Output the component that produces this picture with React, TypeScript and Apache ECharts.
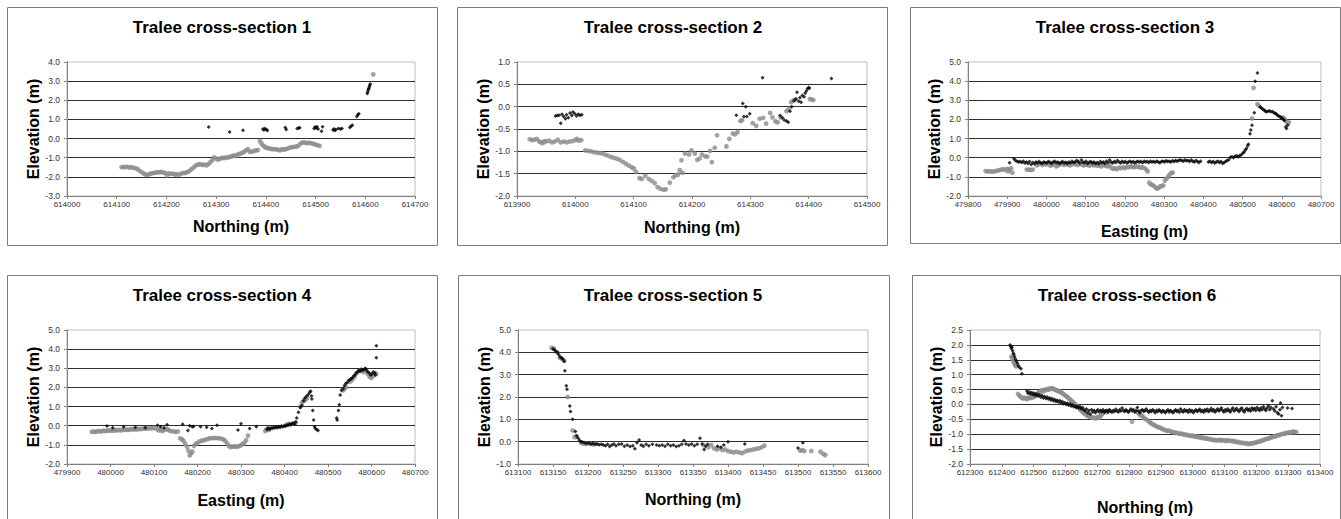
import React, { useEffect, useRef } from "react";
import * as echarts from "echarts";

type Pts = [number, number][];

// ---------- Section 1 ----------
const cs1Grey: Pts = [
  [614110, -1.5], [614114, -1.48], [614118, -1.5], [614122, -1.47], [614126, -1.52], [614130, -1.5], [614134, -1.53],
  [614138, -1.55], [614142, -1.6], [614146, -1.68], [614150, -1.75], [614154, -1.82], [614158, -1.88], [614162, -1.9],
  [614166, -1.86], [614170, -1.82], [614174, -1.8], [614178, -1.78], [614182, -1.76], [614186, -1.76], [614190, -1.74],
  [614194, -1.78], [614198, -1.8], [614201, -1.92], [614205, -1.82], [614209, -1.85], [614213, -1.83], [614217, -1.88],
  [614221, -1.86], [614225, -1.9], [614229, -1.84], [614233, -1.8], [614237, -1.8], [614241, -1.76], [614245, -1.72],
  [614249, -1.62], [614253, -1.55], [614257, -1.45], [614261, -1.38], [614265, -1.35], [614269, -1.35], [614273, -1.38],
  [614277, -1.36], [614281, -1.4], [614285, -1.32], [614289, -1.22], [614293, -1.1], [614296, -0.98], [614300, -1.05],
  [614304, -1.1], [614308, -1.05], [614312, -1.0], [614316, -1.02], [614320, -0.98], [614324, -1.0], [614328, -0.95],
  [614332, -0.92], [614336, -0.88], [614340, -0.9], [614344, -0.82], [614348, -0.8], [614352, -0.75], [614356, -0.7],
  [614360, -0.62], [614364, -0.55], [614368, -0.7], [614372, -0.68], [614376, -0.65], [614380, -0.62], [614384, -0.6],
  [614388, -0.12], [614391, -0.25], [614394, -0.35], [614397, -0.42], [614400, -0.48], [614404, -0.5], [614408, -0.52],
  [614412, -0.55], [614416, -0.55], [614420, -0.56], [614424, -0.58], [614428, -0.62], [614432, -0.56], [614436, -0.58],
  [614440, -0.55], [614444, -0.52], [614448, -0.48], [614452, -0.45], [614456, -0.44], [614460, -0.42], [614464, -0.4],
  [614468, -0.3], [614472, -0.22], [614476, -0.2], [614480, -0.22], [614484, -0.24], [614488, -0.22], [614492, -0.25],
  [614496, -0.28], [614500, -0.32], [614504, -0.35], [614508, -0.38], [614616, 3.35],
];
const cs1Black: Pts = [
  [614285, 0.6], [614327, 0.34], [614354, 0.43], [614394, 0.5], [614396, 0.45], [614398, 0.52], [614401, 0.48],
  [614403, 0.42], [614439, 0.58], [614441, 0.47], [614463, 0.52], [614466, 0.55], [614468, 0.56], [614497, 0.52],
  [614499, 0.6], [614501, 0.55], [614503, 0.62], [614505, 0.5], [614512, 0.38], [614514, 0.62], [614535, 0.45],
  [614537, 0.5], [614539, 0.42], [614541, 0.48], [614546, 0.52], [614550, 0.5], [614553, 0.52], [614569, 0.58],
  [614571, 0.65], [614574, 0.7], [614583, 1.15], [614585, 1.25], [614587, 1.3], [614604, 2.35], [614605, 2.45],
  [614606, 2.55], [614607, 2.62], [614608, 2.7], [614609, 2.78], [614610, 2.85],
];

// ---------- Section 2 ----------
const cs2Grey: Pts = [
  [613922, -0.73], [613926, -0.75], [613930, -0.74], [613934, -0.72], [613938, -0.78], [613941, -0.8], [613944, -0.82],
  [613947, -0.77], [613950, -0.78], [613955, -0.76], [613960, -0.8], [613965, -0.78], [613970, -0.74], [613975, -0.8],
  [613980, -0.78], [613985, -0.8], [613990, -0.78], [613995, -0.77], [614000, -0.75], [614003, -0.72], [614006, -0.76],
  [614010, -0.75], [614017, -0.98], [614022, -0.99], [614027, -1.0], [614032, -1.02], [614037, -1.03], [614042, -1.04],
  [614047, -1.05], [614052, -1.08], [614057, -1.1], [614062, -1.13], [614067, -1.15], [614072, -1.17], [614077, -1.2],
  [614082, -1.24], [614087, -1.28], [614092, -1.32], [614097, -1.36], [614100, -1.38], [614104, -1.46], [614110, -1.6],
  [614114, -1.62], [614120, -1.55], [614126, -1.62], [614131, -1.66], [614136, -1.71], [614141, -1.8], [614146, -1.84],
  [614151, -1.86], [614155, -1.85], [614162, -1.7], [614168, -1.58], [614172, -1.54], [614176, -1.52], [614179, -1.42],
  [614182, -1.2], [614184, -1.48], [614188, -1.05], [614195, -1.07], [614199, -0.98], [614205, -1.05], [614209, -1.19],
  [614213, -1.16], [614217, -1.07], [614222, -1.11], [614226, -1.12], [614231, -0.99], [614234, -1.24], [614239, -0.92],
  [614243, -0.64], [614259, -0.89], [614264, -0.72], [614270, -0.6], [614274, -0.62], [614278, -0.57], [614283, -0.32],
  [614286, -0.3], [614304, -0.37], [614310, -0.43], [614316, -0.27], [614322, -0.25], [614327, -0.38], [614334, -0.14],
  [614338, -0.24], [614343, -0.33], [614347, -0.35], [614352, -0.24], [614362, -0.1], [614366, -0.05], [614370, 0.1],
  [614374, 0.14], [614378, 0.16], [614402, 0.17], [614405, 0.16], [614408, 0.15],
];
const cs2Black: Pts = [
  [613966, -0.21], [613969, -0.2], [613972, -0.19], [613975, -0.37], [613977, -0.17], [613980, -0.22], [613983, -0.27],
  [613985, -0.18], [613988, -0.25], [613991, -0.14], [613994, -0.2], [613996, -0.12], [613999, -0.16], [614002, -0.21],
  [614005, -0.17], [614008, -0.19], [614011, -0.18], [614276, -0.19], [614287, 0.07], [614289, -0.22], [614292, 0.0],
  [614294, -0.22], [614299, -0.16], [614321, 0.65], [614351, -0.2], [614355, -0.25], [614358, -0.3], [614362, -0.32],
  [614365, -0.35], [614368, -0.1], [614371, 0.0], [614375, 0.13], [614378, 0.17], [614380, 0.32], [614383, 0.12],
  [614385, 0.2], [614387, 0.1], [614389, 0.25], [614392, 0.22], [614394, 0.3], [614396, 0.35], [614398, 0.4],
  [614400, 0.43], [614401, 0.41], [614439, 0.63],
];

// ---------- Section 3 ----------
const cs3Grey: Pts = [
  [479845, -0.7], [479850, -0.72], [479855, -0.7], [479860, -0.73], [479865, -0.72], [479870, -0.7], [479875, -0.68],
  [479880, -0.65], [479885, -0.62], [479890, -0.6], [479895, -0.65], [479900, -0.58], [479903, -0.72], [479906, -0.62],
  [479910, -0.55], [479913, -0.78], [479950, -0.62], [479955, -0.62], [479960, -0.64], [479965, -0.62], [479975, -0.4],
  [479980, -0.35], [479985, -0.3], [479990, -0.38], [479995, -0.32], [480000, -0.35], [480005, -0.3], [480010, -0.42],
  [480015, -0.38], [480020, -0.33], [480025, -0.45], [480030, -0.4], [480035, -0.35], [480040, -0.3], [480045, -0.38],
  [480050, -0.32], [480055, -0.36], [480060, -0.4], [480065, -0.35], [480070, -0.3], [480075, -0.35], [480080, -0.38],
  [480085, -0.32], [480090, -0.35], [480095, -0.4], [480100, -0.36], [480105, -0.38], [480110, -0.42], [480115, -0.35],
  [480120, -0.4], [480125, -0.38], [480130, -0.42], [480135, -0.4], [480140, -0.45], [480145, -0.38], [480150, -0.42],
  [480155, -0.45], [480160, -0.4], [480165, -0.52], [480170, -0.58], [480175, -0.55], [480180, -0.6], [480185, -0.52],
  [480190, -0.55], [480195, -0.5], [480200, -0.55], [480205, -0.48], [480210, -0.5], [480215, -0.45], [480220, -0.48],
  [480225, -0.5], [480230, -0.45], [480235, -0.48], [480240, -0.52], [480245, -0.5], [480250, -0.55], [480255, -0.62],
  [480258, -0.72], [480262, -1.3], [480266, -1.4], [480270, -1.42], [480274, -1.48], [480278, -1.55], [480282, -1.62],
  [480286, -1.58], [480290, -1.5], [480294, -1.48], [480298, -1.45], [480302, -1.2], [480306, -1.1], [480310, -1.0],
  [480314, -0.88], [480318, -0.8], [480322, -0.78], [480524, 2.05], [480528, 3.65], [480538, 2.8], [480542, 2.7],
  [480603, 2.1], [480606, 2.05], [480609, 1.95], [480614, 1.8], [480618, 1.85],
];
const cs3Black: Pts = [
  [479906, -0.26], [479917, -0.05], [479921, -0.15], [479925, -0.18], [479929, -0.22], [479933, -0.2], [479937, -0.25],
  [479941, -0.18], [479945, -0.28], [479949, -0.22], [479953, -0.3], [479957, -0.2], [479961, -0.35], [479965, -0.25],
  [479969, -0.32], [479973, -0.22], [479977, -0.28], [479981, -0.2], [479985, -0.26], [479989, -0.3], [479993, -0.22],
  [479997, -0.25], [480001, -0.28], [480005, -0.2], [480009, -0.24], [480013, -0.3], [480017, -0.22], [480021, -0.18],
  [480025, -0.26], [480029, -0.22], [480033, -0.3], [480037, -0.25], [480041, -0.2], [480045, -0.28], [480049, -0.24],
  [480053, -0.3], [480057, -0.22], [480061, -0.26], [480065, -0.18], [480069, -0.25], [480073, -0.22], [480077, -0.15],
  [480081, -0.2], [480085, -0.28], [480089, -0.12], [480093, -0.22], [480097, -0.26], [480101, -0.18], [480105, -0.3],
  [480109, -0.24], [480113, -0.2], [480117, -0.28], [480121, -0.22], [480125, -0.3], [480129, -0.25], [480133, -0.32],
  [480137, -0.2], [480141, -0.26], [480145, -0.22], [480149, -0.3], [480153, -0.18], [480157, -0.25], [480161, -0.12],
  [480165, -0.22], [480169, -0.28], [480173, -0.2], [480177, -0.25], [480181, -0.15], [480185, -0.22], [480189, -0.28],
  [480193, -0.18], [480197, -0.25], [480201, -0.2], [480205, -0.28], [480209, -0.22], [480213, -0.18], [480217, -0.25],
  [480221, -0.2], [480225, -0.28], [480229, -0.22], [480233, -0.18], [480237, -0.24], [480241, -0.2], [480245, -0.26],
  [480249, -0.18], [480253, -0.22], [480257, -0.2], [480261, -0.25], [480265, -0.18], [480269, -0.22], [480273, -0.2],
  [480277, -0.24], [480281, -0.18], [480285, -0.22], [480289, -0.26], [480293, -0.2], [480297, -0.18], [480301, -0.22],
  [480305, -0.16], [480309, -0.2], [480313, -0.18], [480317, -0.22], [480321, -0.16], [480325, -0.2], [480329, -0.15],
  [480333, -0.18], [480337, -0.14], [480341, -0.12], [480345, -0.15], [480349, -0.18], [480353, -0.12], [480357, -0.16],
  [480361, -0.14], [480365, -0.2], [480369, -0.12], [480373, -0.18], [480377, -0.22], [480381, -0.15], [480385, -0.2],
  [480389, -0.25], [480393, -0.18], [480413, -0.22], [480417, -0.18], [480421, -0.25], [480425, -0.2], [480429, -0.28],
  [480433, -0.22], [480437, -0.18], [480441, -0.25], [480445, -0.2], [480449, -0.3], [480453, -0.25], [480457, -0.2],
  [480461, -0.15], [480465, -0.1], [480469, 0.02], [480473, 0.05], [480477, 0.0], [480481, 0.08], [480485, 0.1],
  [480489, 0.05], [480493, 0.12], [480497, 0.15], [480501, 0.25], [480504, 0.3], [480507, 0.4], [480510, 0.48],
  [480513, 0.62], [480515, 0.7], [480519, 1.25], [480521, 1.45], [480524, 1.7], [480530, 2.35], [480532, 4.0],
  [480538, 4.42], [480545, 2.65], [480548, 2.6], [480551, 2.55], [480554, 2.5], [480557, 2.45], [480560, 2.4],
  [480564, 2.42], [480568, 2.45], [480572, 2.4], [480576, 2.42], [480580, 2.35], [480583, 2.32], [480586, 2.28],
  [480589, 2.22], [480592, 2.18], [480595, 2.15], [480598, 2.1], [480601, 2.05], [480604, 2.0], [480607, 1.95],
  [480610, 1.6], [480612, 1.52], [480615, 1.7],
];

// ---------- Section 4 ----------
const cs4Grey: Pts = [
  [479957, -0.32], [479961, -0.3], [479965, -0.32], [479969, -0.3], [479973, -0.28], [479977, -0.3], [479981, -0.28],
  [479985, -0.26], [479989, -0.28], [479993, -0.26], [479997, -0.24], [480001, -0.26], [480005, -0.24], [480009, -0.26],
  [480013, -0.22], [480017, -0.24], [480021, -0.22], [480025, -0.24], [480029, -0.2], [480033, -0.22], [480037, -0.2],
  [480041, -0.22], [480045, -0.2], [480049, -0.18], [480053, -0.2], [480057, -0.18], [480061, -0.2], [480065, -0.16],
  [480069, -0.18], [480073, -0.16], [480077, -0.15], [480081, -0.14], [480085, -0.15], [480089, -0.12], [480093, -0.14],
  [480097, -0.12], [480101, -0.12], [480107, -0.18], [480111, -0.25], [480115, -0.2], [480119, -0.28], [480123, -0.22],
  [480127, -0.2], [480131, -0.18], [480135, -0.25], [480139, -0.28], [480145, -0.3], [480150, -0.32], [480155, -0.3],
  [480160, -0.66], [480165, -0.72], [480168, -0.8], [480172, -0.95], [480176, -1.1], [480179, -1.3], [480182, -1.55],
  [480185, -1.45], [480188, -1.35], [480192, -1.05], [480196, -0.95], [480200, -0.9], [480205, -0.82], [480210, -0.78],
  [480215, -0.75], [480220, -0.72], [480225, -0.68], [480230, -0.65], [480235, -0.65], [480240, -0.64], [480245, -0.65],
  [480250, -0.66], [480255, -0.68], [480260, -0.72], [480264, -0.8], [480268, -0.92], [480272, -1.05], [480276, -1.12],
  [480280, -1.08], [480284, -1.1], [480288, -1.08], [480292, -1.1], [480296, -1.06], [480300, -1.02], [480304, -0.95],
  [480308, -0.88], [480312, -0.75], [480316, -0.52], [480356, -0.28], [480358, -0.2], [480361, -0.15], [480364, -0.22],
  [480405, 0.05], [480410, 0.1], [480415, 0.08], [480420, 0.12], [480425, 0.15], [480437, 1.0], [480440, 1.2],
  [480443, 1.28], [480446, 1.32], [480449, 1.4], [480452, 1.45], [480535, 1.85], [480538, 1.95], [480541, 2.0],
  [480551, 2.3], [480556, 2.4], [480561, 2.55], [480566, 2.75], [480571, 2.85], [480576, 2.9], [480581, 2.8],
  [480586, 2.85], [480591, 2.7], [480596, 2.55], [480600, 2.5], [480604, 2.6], [480608, 2.75], [480611, 2.7],
];
const cs4Black: Pts = [
  [479992, -0.02], [480005, -0.1], [480030, -0.05], [480057, -0.08], [480080, -0.1], [480108, 0.03], [480115, -0.05],
  [480123, -0.1], [480130, 0.05], [480166, 0.07], [480178, -0.25], [480182, 0.0], [480188, -0.05], [480191, -0.04],
  [480207, -0.05], [480221, -0.08], [480233, -0.14], [480245, 0.02], [480293, -0.23], [480300, 0.1], [480320, -0.15],
  [480335, -0.05], [480360, -0.2], [480363, -0.12], [480366, -0.18], [480369, -0.1], [480372, -0.15], [480375, -0.08],
  [480378, -0.12], [480381, -0.06], [480384, -0.1], [480387, -0.05], [480390, -0.08], [480393, -0.02], [480396, -0.06],
  [480399, 0.0], [480402, -0.03], [480405, 0.04], [480408, 0.02], [480411, 0.08], [480414, 0.05], [480417, 0.1],
  [480420, 0.12], [480423, 0.08], [480426, 0.2], [480428, 0.4], [480432, 0.7], [480436, 0.95], [480440, 1.05],
  [480444, 1.3], [480447, 1.45], [480451, 1.55], [480455, 1.65], [480458, 1.75], [480460, 1.8], [480462, 1.55],
  [480463, 1.4], [480465, 0.8], [480467, 0.3], [480469, -0.05], [480471, -0.15], [480474, -0.2], [480477, -0.25],
  [480520, 0.4], [480521, 0.3], [480524, 0.8], [480526, 1.1], [480528, 1.6], [480531, 1.85], [480535, 1.95],
  [480538, 2.1], [480541, 2.2], [480544, 2.25], [480547, 2.35], [480550, 2.4], [480553, 2.45], [480556, 2.5],
  [480559, 2.6], [480562, 2.65], [480565, 2.75], [480568, 2.8], [480571, 2.9], [480574, 2.85], [480577, 2.95],
  [480580, 2.9], [480583, 2.95], [480586, 3.0], [480589, 2.9], [480592, 2.8], [480595, 2.75], [480598, 2.65],
  [480601, 2.7], [480604, 2.8], [480607, 2.75], [480609, 2.65], [480611, 3.55], [480611, 4.18],
];

// ---------- Section 5 ----------
const cs5Grey: Pts = [
  [613148, 4.2], [613151, 4.18], [613156, 4.0], [613160, 3.75], [613163, 3.7], [613166, 3.62], [613171, 2.0],
  [613178, 0.5], [613181, 0.2], [613183, 0.25], [613190, -0.05], [613193, -0.08], [613196, -0.1], [613200, -0.08],
  [613204, -0.1], [613208, -0.12], [613212, -0.1], [613365, -0.15], [613372, -0.25], [613376, -0.15], [613380, -0.3],
  [613384, -0.35], [613388, -0.3], [613392, -0.38], [613396, -0.35], [613400, -0.42], [613404, -0.45], [613408, -0.48],
  [613412, -0.45], [613416, -0.48], [613420, -0.52], [613424, -0.45], [613428, -0.4], [613432, -0.38], [613436, -0.35],
  [613440, -0.32], [613444, -0.3], [613448, -0.25], [613452, -0.18], [613503, -0.4], [613506, -0.38], [613509, -0.42],
  [613519, -0.42], [613532, -0.45], [613536, -0.55], [613539, -0.6],
];
const cs5Black: Pts = [
  [613150, 4.15], [613152, 4.12], [613154, 4.05], [613156, 4.0], [613158, 3.9], [613160, 3.8], [613162, 3.75],
  [613164, 3.7], [613166, 3.6], [613167, 3.18], [613169, 2.5], [613170, 2.35], [613174, 1.6], [613175, 1.35],
  [613178, 1.0], [613182, 0.45], [613184, 0.25], [613186, 0.15], [613188, 0.05], [613190, 0.0], [613192, -0.02],
  [613195, -0.05], [613198, -0.08], [613201, -0.05], [613204, -0.1], [613207, -0.08], [613210, -0.12], [613213, -0.1],
  [613216, -0.14], [613219, -0.12], [613222, -0.15], [613225, -0.18], [613228, -0.12], [613231, -0.22], [613234, -0.15],
  [613237, -0.1], [613240, -0.18], [613244, -0.12], [613248, -0.1], [613252, -0.2], [613256, -0.15], [613260, -0.22],
  [613264, -0.18], [613267, -0.32], [613270, -0.05], [613273, 0.08], [613276, -0.15], [613279, -0.2], [613283, -0.12],
  [613287, -0.18], [613292, -0.12], [613298, -0.15], [613302, -0.18], [613306, -0.15], [613310, -0.2], [613314, -0.12],
  [613318, -0.18], [613322, -0.15], [613326, -0.22], [613330, -0.18], [613334, -0.12], [613337, 0.05], [613340, -0.1],
  [613344, -0.15], [613348, -0.1], [613352, -0.18], [613356, -0.12], [613360, 0.15], [613363, -0.1], [613366, -0.35],
  [613368, -0.2], [613371, -0.12], [613385, -0.2], [613390, -0.25], [613394, -0.15], [613400, 0.0], [613424, -0.1],
  [613500, -0.28], [613507, -0.05],
];

// ---------- Section 6 ----------
const cs6Grey: Pts = [
  [612430, 1.6], [612433, 1.55], [612436, 1.45], [612439, 1.38], [612442, 1.32], [612445, 1.28],
  [612451, 0.35], [612455, 0.3], [612459, 0.26], [612463, 0.22], [612467, 0.2], [612471, 0.23], [612475, 0.2],
  [612479, 0.18], [612483, 0.22], [612487, 0.21], [612491, 0.25], [612495, 0.22], [612499, 0.28], [612503, 0.26],
  [612507, 0.32], [612511, 0.35], [612515, 0.4], [612519, 0.42], [612523, 0.45], [612527, 0.48], [612531, 0.44],
  [612535, 0.5], [612539, 0.48], [612543, 0.52], [612547, 0.5], [612551, 0.54], [612555, 0.52], [612559, 0.55],
  [612563, 0.52], [612567, 0.5], [612571, 0.48], [612575, 0.45], [612579, 0.46], [612583, 0.42], [612587, 0.4],
  [612591, 0.37], [612595, 0.34], [612599, 0.3], [612603, 0.28], [612607, 0.24], [612611, 0.2], [612615, 0.16],
  [612619, 0.12], [612623, 0.08], [612627, 0.05], [612631, 0.0], [612635, -0.05], [612639, -0.1], [612643, -0.12],
  [612647, -0.18], [612651, -0.22], [612655, -0.26], [612659, -0.3], [612663, -0.33], [612667, -0.37], [612671, -0.38],
  [612675, -0.41], [612679, -0.42], [612683, -0.45], [612687, -0.44], [612691, -0.45], [612695, -0.47], [612699, -0.44],
  [612703, -0.42], [612707, -0.44], [612711, -0.38], [612715, -0.33], [612719, -0.28], [612723, -0.25], [612727, -0.24],
  [612731, -0.26], [612735, -0.22], [612809, -0.58],
  [612825, -0.26], [612830, -0.3], [612835, -0.36], [612840, -0.38], [612845, -0.43], [612850, -0.48], [612855, -0.51],
  [612860, -0.55], [612865, -0.6], [612870, -0.63], [612875, -0.68], [612880, -0.7], [612885, -0.73], [612890, -0.76],
  [612895, -0.77], [612900, -0.8], [612905, -0.83], [612910, -0.84], [612915, -0.87], [612920, -0.89], [612925, -0.88],
  [612930, -0.91], [612935, -0.92], [612940, -0.93], [612945, -0.96], [612950, -0.95], [612955, -0.97], [612960, -0.99],
  [612965, -0.98], [612970, -1.0], [612975, -1.02], [612980, -1.01], [612985, -1.04], [612990, -1.04], [612995, -1.06],
  [613000, -1.05], [613005, -1.08], [613010, -1.07], [613015, -1.1], [613020, -1.09], [613025, -1.12], [613030, -1.11],
  [613035, -1.14], [613040, -1.13], [613045, -1.15], [613050, -1.17], [613055, -1.16], [613060, -1.18], [613065, -1.2],
  [613070, -1.19], [613075, -1.21], [613080, -1.2], [613085, -1.19], [613090, -1.22], [613095, -1.2], [613100, -1.21],
  [613105, -1.23], [613110, -1.2], [613115, -1.22], [613120, -1.23], [613125, -1.22], [613130, -1.25], [613135, -1.24],
  [613140, -1.27], [613145, -1.26], [613150, -1.29], [613155, -1.28], [613160, -1.3], [613165, -1.31], [613170, -1.3],
  [613175, -1.33], [613180, -1.32], [613185, -1.3], [613190, -1.31], [613195, -1.28], [613200, -1.28], [613205, -1.25],
  [613210, -1.25], [613215, -1.22], [613220, -1.21], [613225, -1.18], [613230, -1.17], [613235, -1.15], [613240, -1.14],
  [613245, -1.11], [613250, -1.1], [613255, -1.08], [613260, -1.07], [613265, -1.04], [613270, -1.04], [613275, -1.01],
  [613280, -1.0], [613285, -0.98], [613290, -0.98], [613295, -0.95], [613300, -0.96], [613305, -0.93], [613310, -0.94],
  [613315, -0.91], [613320, -0.92], [613325, -0.93],
];
const cs6Black: Pts = [
  [612426, 2.0], [612428, 1.95], [612430, 1.88], [612432, 1.92], [612434, 1.8], [612436, 1.72], [612438, 1.68],
  [612440, 1.6], [612443, 1.52], [612446, 1.45], [612449, 1.38], [612452, 1.3], [612455, 1.25], [612460, 1.2],
  [612463, 1.03],
  [612479, 0.45], [612482, 0.38], [612486, 0.42], [612490, 0.35], [612494, 0.4], [612498, 0.33], [612502, 0.38],
  [612506, 0.3], [612510, 0.35], [612514, 0.28], [612518, 0.32], [612522, 0.25], [612526, 0.3], [612530, 0.22],
  [612534, 0.27], [612538, 0.2], [612542, 0.25], [612546, 0.18], [612550, 0.22], [612554, 0.15], [612558, 0.2],
  [612562, 0.12], [612566, 0.17], [612570, 0.1], [612574, 0.14], [612578, 0.08], [612582, 0.12], [612586, 0.05],
  [612590, 0.1], [612594, 0.02], [612598, 0.06], [612602, 0.0], [612606, 0.04], [612610, -0.03], [612614, 0.02],
  [612618, -0.05], [612622, -0.02], [612626, -0.08], [612630, -0.05], [612634, -0.1], [612638, -0.06], [612642, -0.12],
  [612646, -0.08], [612650, -0.15], [612654, -0.1], [612658, -0.18], [612662, -0.22], [612666, -0.15], [612670, -0.28],
  [612674, -0.2], [612678, -0.32], [612682, -0.18], [612686, -0.25], [612690, -0.2], [612694, -0.28], [612698, -0.22],
  [612702, -0.18], [612706, -0.25], [612710, -0.2], [612714, -0.24], [612718, -0.18], [612722, -0.26], [612726, -0.22],
  [612730, -0.2], [612734, -0.25], [612738, -0.18], [612742, -0.22], [612746, -0.26], [612750, -0.2], [612754, -0.24],
  [612758, -0.16], [612762, -0.22], [612766, -0.25], [612770, -0.18], [612774, -0.22], [612778, -0.12], [612782, -0.2],
  [612786, -0.24], [612790, -0.18], [612794, -0.22], [612798, -0.26], [612802, -0.2], [612806, -0.15], [612810, -0.22],
  [612814, -0.18], [612818, -0.25], [612822, -0.2], [612826, -0.1], [612830, -0.22], [612834, -0.28], [612838, -0.2],
  [612842, -0.18], [612846, -0.24], [612850, -0.2], [612854, -0.15], [612858, -0.22], [612862, -0.26], [612866, -0.2],
  [612870, -0.24], [612874, -0.18], [612878, -0.22], [612882, -0.28], [612886, -0.2], [612890, -0.24], [612894, -0.18],
  [612898, -0.22], [612902, -0.26], [612906, -0.2], [612910, -0.24], [612914, -0.28], [612918, -0.22], [612922, -0.18],
  [612926, -0.25], [612930, -0.2], [612934, -0.24], [612938, -0.28], [612942, -0.22], [612946, -0.18], [612950, -0.24],
  [612954, -0.2], [612958, -0.26], [612962, -0.15], [612966, -0.22], [612970, -0.25], [612974, -0.18], [612978, -0.22],
  [612982, -0.2], [612986, -0.26], [612990, -0.18], [612994, -0.24], [612998, -0.2], [613002, -0.28], [613006, -0.22],
  [613010, -0.18], [613014, -0.24], [613018, -0.2], [613022, -0.16], [613026, -0.24], [613030, -0.2], [613034, -0.26],
  [613038, -0.18], [613042, -0.22], [613046, -0.16], [613050, -0.24], [613054, -0.2], [613058, -0.14], [613062, -0.22],
  [613066, -0.18], [613070, -0.25], [613074, -0.2], [613078, -0.15], [613082, -0.22], [613086, -0.18], [613090, -0.12],
  [613094, -0.2], [613098, -0.25], [613102, -0.18], [613106, -0.22], [613110, -0.15], [613114, -0.2], [613118, -0.25],
  [613122, -0.18], [613126, -0.12], [613130, -0.22], [613134, -0.18], [613138, -0.14], [613142, -0.2], [613146, -0.24],
  [613150, -0.16], [613154, -0.12], [613158, -0.2], [613162, -0.25], [613166, -0.18], [613170, -0.14], [613174, -0.2],
  [613178, -0.16], [613182, -0.22], [613186, -0.12], [613190, -0.18], [613194, -0.14], [613198, -0.2], [613202, -0.1],
  [613206, -0.16], [613210, -0.2], [613214, -0.12], [613218, -0.18], [613222, -0.08], [613226, -0.15], [613230, -0.2],
  [613234, -0.12], [613238, -0.05], [613242, -0.18], [613246, -0.1], [613250, 0.12], [613254, -0.15], [613258, -0.22],
  [613262, -0.08], [613266, -0.28], [613270, -0.32], [613274, -0.18], [613276, 0.05], [613279, -0.38], [613282, -0.1],
  [613298, -0.12], [613312, -0.14],
];

// ---------- Labels / axes ----------
const titles = [
  "Tralee cross-section 1", "Tralee cross-section 2", "Tralee cross-section 3",
  "Tralee cross-section 4", "Tralee cross-section 5", "Tralee cross-section 6",
];
const xNames = ["Northing (m)", "Northing (m)", "Easting (m)", "Easting (m)", "Northing (m)", "Northing (m)"];
const yName = "Elevation (m)";
const xMins = [614000, 613900, 479800, 479900, 613100, 612300];
const xMaxs = [614700, 614500, 480700, 480700, 613600, 613400];
const xSteps = [100, 100, 100, 100, 50, 100];
const yMins = [-3, -2, -2, -2, -1, -2];
const yMaxs = [4, 1, 5, 5, 5, 2.5];
const ySteps = [1, 0.5, 1, 1, 1, 0.5];
const greySeries = [cs1Grey, cs2Grey, cs3Grey, cs4Grey, cs5Grey, cs6Grey];
const blackSeries = [cs1Black, cs2Black, cs3Black, cs4Black, cs5Black, cs6Black];

// ---------- Layout (pixels) ----------
const layout = [
  { grid: [67, 62, 348, 134], box: [7, 7, 430, 238], tx: 222, ty: 27, xGap: 22, yGap: 25 },
  { grid: [517, 62, 350, 134], box: [457, 7, 430, 238], tx: 673, ty: 27, xGap: 23, yGap: 25 },
  { grid: [968, 62, 353, 134], box: [910, 7, 430, 236], tx: 1125, ty: 27, xGap: 27, yGap: 26 },
  { grid: [67, 330, 348, 134], box: [7, 275, 430, 260], tx: 222, ty: 295, xGap: 28, yGap: 25 },
  { grid: [518, 330, 350, 134], box: [458, 275, 431, 260], tx: 673, ty: 295, xGap: 27, yGap: 26 },
  { grid: [970, 330, 350, 134], box: [912, 275, 428, 260], tx: 1127, ty: 295, xGap: 35, yGap: 24 },
];

const FONT = '"Liberation Sans", Arial, Helvetica, sans-serif';

export default function App() {
  const ref = useRef<HTMLDivElement>(null);
  useEffect(() => {
    if (!ref.current) return;
    const chart = echarts.init(ref.current, undefined, { renderer: "svg" });
    const grids: any[] = [];
    const xAxes: any[] = [];
    const yAxes: any[] = [];
    const series: any[] = [];
    const graphics: any[] = [];
    layout.forEach((L, i) => {
      grids.push({
        left: L.grid[0], top: L.grid[1], width: L.grid[2], height: L.grid[3],
        show: true, borderColor: "#bdbdbd", borderWidth: 1, backgroundColor: "transparent",
      });
      xAxes.push({
        type: "value", gridIndex: i, min: xMins[i], max: xMaxs[i], interval: xSteps[i],
        name: xNames[i], nameLocation: "middle", nameGap: L.xGap,
        nameTextStyle: { fontSize: 16, fontWeight: "bold", color: "#000", fontFamily: FONT },
        axisLine: { show: true, onZero: false, lineStyle: { color: "#808080", width: 1 } },
        axisTick: { show: true, length: 3, lineStyle: { color: "#808080" } },
        axisLabel: { fontSize: 8, color: "#333", margin: 4, fontFamily: FONT, formatter: (v: number) => String(v), showMinLabel: true, showMaxLabel: true },
        splitLine: { show: false },
      });
      yAxes.push({
        type: "value", gridIndex: i, min: yMins[i], max: yMaxs[i], interval: ySteps[i],
        name: yName, nameLocation: "middle", nameGap: L.yGap,
        nameTextStyle: { fontSize: 16, fontWeight: "bold", color: "#000", fontFamily: FONT },
        axisLine: { show: true, onZero: false, lineStyle: { color: "#808080", width: 1 } },
        axisTick: { show: true, length: 3, lineStyle: { color: "#808080" } },
        axisLabel: { fontSize: 8.5, color: "#333", margin: 7, fontFamily: FONT, formatter: (v: number) => v.toFixed(1) },
        splitLine: { show: true, showMinLine: false, showMaxLine: false, lineStyle: { color: "#2e2e2e", width: 1 } },
      });
      series.push({
        type: "scatter", xAxisIndex: i, yAxisIndex: i, data: greySeries[i],
        symbol: "circle", symbolSize: 4.8, itemStyle: { color: "#8c8c8c" }, silent: true,
      });
      series.push({
        type: "scatter", xAxisIndex: i, yAxisIndex: i, data: blackSeries[i],
        symbol: "diamond", symbolSize: 4, itemStyle: { color: "#000" }, silent: true,
      });
      graphics.push({
        type: "rect", silent: true, z: -1,
        shape: { x: L.box[0] + 0.5, y: L.box[1] + 0.5, width: L.box[2], height: L.box[3] },
        style: { fill: "none", stroke: "#7a7a7a", lineWidth: 1 },
      });
      graphics.push({
        type: "text", silent: true, x: L.tx, y: L.ty,
        style: { text: titles[i], fill: "#000", font: `bold 17px ${FONT}`, textAlign: "center", textVerticalAlign: "middle" },
      });
    });
    chart.setOption({
      animation: false,
      backgroundColor: "#fff",
      textStyle: { fontFamily: FONT },
      grid: grids,
      xAxis: xAxes,
      yAxis: yAxes,
      series,
      graphic: graphics,
    });
    return () => chart.dispose();
  }, []);
  return <div ref={ref} style={{ position: "absolute", left: 0, top: 0, width: 1341, height: 519 }} />;
}
